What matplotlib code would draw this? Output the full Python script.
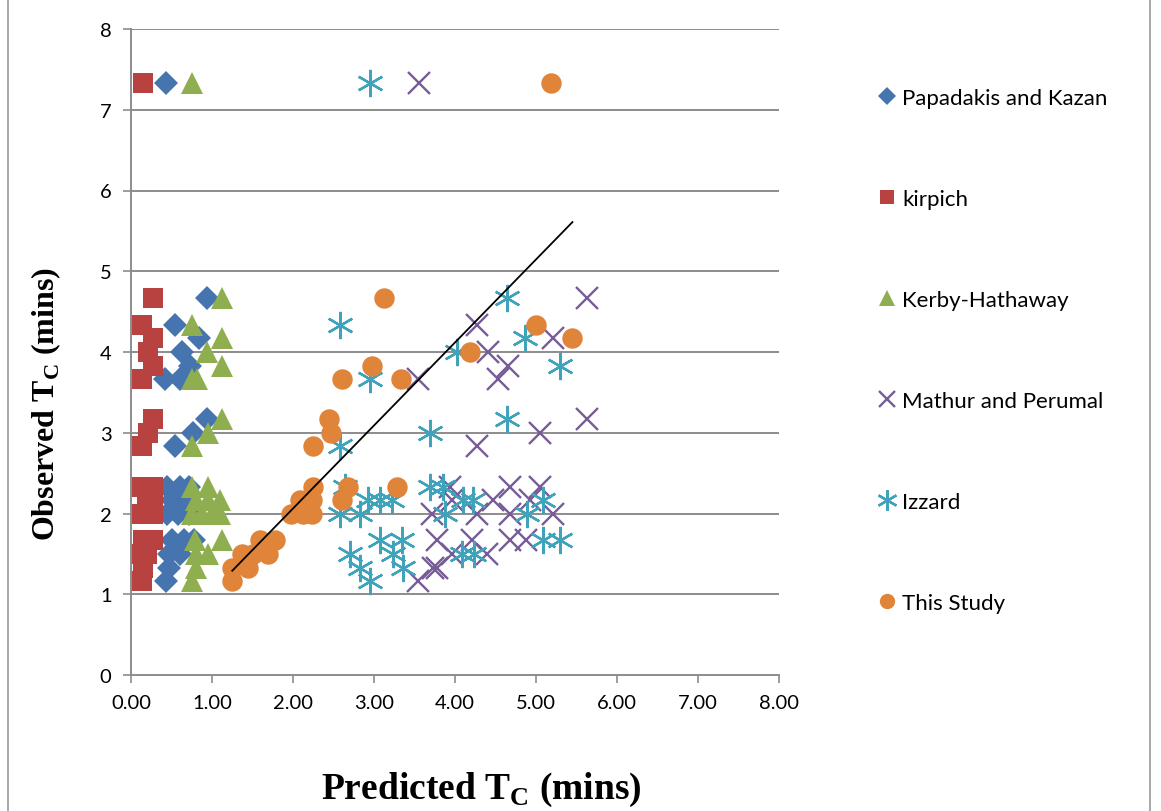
import matplotlib
matplotlib.use("Agg")
import matplotlib.pyplot as plt
from matplotlib.patches import Rectangle
from matplotlib.ticker import FormatStrFormatter
import numpy as np

# ---- data (predicted x, observed y), minutes ----
papadakis_x = [0.43, 0.94, 0.54, 0.84, 0.63, 0.73, 0.42, 0.60, 0.94, 0.77, 0.54,
               0.45, 0.60, 0.72, 0.50, 0.65, 0.45, 0.58, 0.72, 0.51, 0.65, 0.78,
               0.47, 0.60, 0.47, 0.43]
papadakis_y = [7.33, 4.67, 4.33, 4.17, 4.00, 3.83, 3.67, 3.67, 3.17, 3.00, 2.83,
               2.33, 2.33, 2.33, 2.17, 2.17, 2.00, 2.00, 2.00, 1.67, 1.67, 1.67,
               1.50, 1.50, 1.33, 1.17]

kirpich_x = [0.15, 0.27, 0.13, 0.27, 0.21, 0.27, 0.13, 0.27, 0.21, 0.13,
             0.13, 0.27, 0.20, 0.27, 0.13, 0.20, 0.27, 0.15, 0.27, 0.13, 0.20,
             0.15, 0.13]
kirpich_y = [7.33, 4.67, 4.33, 4.17, 4.00, 3.83, 3.67, 3.17, 3.00, 2.83,
             2.33, 2.33, 2.17, 2.17, 2.00, 2.00, 2.00, 1.67, 1.67, 1.50, 1.50,
             1.33, 1.17]

kerby_x = [0.75, 1.12, 0.75, 1.12, 0.94, 1.12, 0.75, 0.81, 1.12, 0.95, 0.75,
           0.75, 0.95, 0.80, 0.95, 1.10, 0.75, 0.88, 1.00, 1.10, 0.79, 1.12,
           0.95, 0.80, 0.80, 0.75]
kerby_y = [7.33, 4.67, 4.33, 4.17, 4.00, 3.83, 3.67, 3.67, 3.17, 3.00, 2.83,
           2.33, 2.33, 2.17, 2.17, 2.17, 2.00, 2.00, 2.00, 2.00, 1.67, 1.67,
           1.50, 1.50, 1.33, 1.17]

mathur_x = [3.56, 5.63, 4.27, 5.21, 4.41, 4.65, 4.53, 3.54, 5.63, 5.05, 4.27,
            3.94, 4.68, 5.05, 3.96, 4.47, 4.93, 3.71, 4.27, 4.68, 5.21,
            3.78, 4.21, 4.68, 4.88, 3.96, 4.40, 3.73, 3.78, 3.54]
mathur_y = [7.33, 4.67, 4.33, 4.17, 4.00, 3.83, 3.67, 3.67, 3.17, 3.00, 2.83,
            2.33, 2.33, 2.33, 2.17, 2.17, 2.17, 2.00, 2.00, 2.00, 2.00,
            1.67, 1.67, 1.67, 1.67, 1.50, 1.50, 1.33, 1.33, 1.17]

izzard_x = [2.95, 4.64, 2.58, 4.86, 4.02, 5.30, 2.95, 4.64, 3.69, 2.58,
            2.64, 3.69, 3.85, 2.93, 3.07, 3.22, 4.10, 4.22, 5.09,
            2.58, 2.83, 3.88, 4.89, 3.07, 3.35, 5.09, 5.30,
            2.70, 3.24, 4.09, 4.23, 2.83, 3.36, 2.95]
izzard_y = [7.33, 4.67, 4.33, 4.17, 4.00, 3.83, 3.67, 3.17, 3.00, 2.83,
            2.33, 2.33, 2.33, 2.17, 2.17, 2.17, 2.17, 2.17, 2.17,
            2.00, 2.00, 2.00, 2.00, 1.67, 1.67, 1.67, 1.67,
            1.50, 1.50, 1.50, 1.50, 1.33, 1.33, 1.17]

study_x = [5.18, 3.12, 5.00, 5.45, 4.18, 2.97, 2.60, 3.33, 2.45, 2.47, 2.25,
           3.28, 2.68, 2.25, 2.60, 2.09, 2.23, 1.98, 2.12, 2.23,
           1.78, 1.59, 1.51, 1.69, 1.37, 1.45, 1.25, 1.25]
study_y = [7.33, 4.67, 4.33, 4.17, 4.00, 3.83, 3.67, 3.67, 3.17, 3.00, 2.83,
           2.33, 2.33, 2.33, 2.17, 2.17, 2.17, 2.00, 2.00, 2.00,
           1.67, 1.67, 1.50, 1.50, 1.50, 1.33, 1.33, 1.17]

# linear trend drawn through "This Study"
trend_slope = 1.028
trend_intercept = 0.006

x_ticks = np.arange(0, 9, 1)
y_ticks = np.arange(0, 9, 1)

# Excel 2007 palette
C_BLUE, C_RED, C_GREEN = "#4674AE", "#B8423F", "#8FAE4F"
C_PURPLE, C_CYAN, C_ORANGE = "#785C98", "#3FA3BB", "#E0843A"

SANS = ["Lato", "DejaVu Sans"]
SERIF = ["Liberation Serif", "DejaVu Serif"]

fig = plt.figure(figsize=(11.61, 8.12), dpi=100)
ax = fig.add_axes([131 / 1161, 136 / 812, 648 / 1161, 646 / 812])

# chart border (as in the pasted Excel chart)
fig.add_artist(Rectangle((8 / 1161, -0.01), 1142 / 1161, 1.02, transform=fig.transFigure,
                         fill=False, edgecolor="#9a9a9a", lw=1.2))

ax.set_xlim(0, 8)
ax.set_ylim(0, 8)
ax.set_xticks(x_ticks)
ax.set_yticks(y_ticks)
ax.xaxis.set_major_formatter(FormatStrFormatter("%.2f"))
for y in y_ticks[1:]:
    ax.axhline(y, color="#8c8c8c", lw=1.4, zorder=0)

for s in ["top", "right"]:
    ax.spines[s].set_visible(False)
for s in ["left", "bottom"]:
    ax.spines[s].set_color("#8c8c8c")
    ax.spines[s].set_linewidth(1.4)
ax.tick_params(colors="#8c8c8c", width=1.2, length=6, labelcolor="black", labelsize=14.5, pad=8)
for lab in ax.get_xticklabels() + ax.get_yticklabels():
    lab.set_family(SANS)

ms = 14
ax.plot(papadakis_x, papadakis_y, "D", color=C_BLUE, ms=ms * 0.9, mew=0, label="Papadakis and Kazan", zorder=3)
ax.plot(kirpich_x, kirpich_y, "s", color=C_RED, ms=ms, mew=0, label="kirpich", zorder=3)
ax.plot(kerby_x, kerby_y, "^", color=C_GREEN, ms=ms * 1.15, mew=0, label="Kerby-Hathaway", zorder=3)
ax.plot(mathur_x, mathur_y, "x", color=C_PURPLE, ms=ms * 1.1, mew=1.7, label="Mathur and Perumal", zorder=3)
ax.plot(izzard_x, izzard_y, color=C_CYAN, ms=ms * 1.4, mew=1.7, ls="none",
        marker=(6, 2, 0), label="Izzard", zorder=3)
ax.plot(study_x, study_y, "o", color=C_ORANGE, ms=ms * 1.05, mew=0, label="This Study", zorder=3)

tx = np.array([min(study_x), max(study_x)])
ax.plot(tx, trend_slope * tx + trend_intercept, color="black", lw=1.3, zorder=4)

leg = ax.legend(loc="upper left", bbox_to_anchor=(1.14, 0.923), frameon=False,
                prop={"family": SANS, "size": 16}, labelspacing=3.65,
                handlelength=0.75, handletextpad=0.3, markerscale=0.75, borderaxespad=0)

fig.text(46 / 1161, 0.502, r"Observed T$_\mathregular{C}$ (mins)", family=SERIF,
         fontweight="bold", fontsize=23, rotation=90, ha="center", va="center")
fig.text(0.415, 0.027, r"Predicted T$_\mathregular{C}$ (mins)", family=SERIF,
         fontweight="bold", fontsize=27, ha="center", va="center")

fig.savefig("out.png", dpi=100)
